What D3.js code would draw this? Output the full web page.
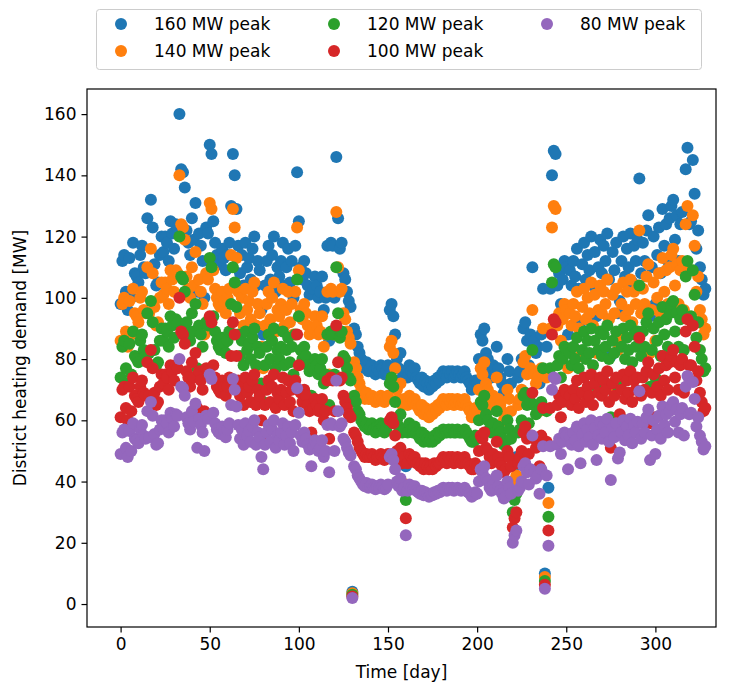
<!DOCTYPE html>
<html>
<head>
<meta charset="utf-8">
<script src="https://cdn.jsdelivr.net/npm/d3@7"></script>
<style>
  body { margin: 0; background: #fff; }
  svg text { font-family: "DejaVu Sans", sans-serif; fill: #000; }
</style>
</head>
<body>
<svg id="chart" width="734" height="688"></svg>
<script>
// Daily district heating demand [MW] for five network sizes (peak load)
const peakLabels = ["160 MW peak", "140 MW peak", "120 MW peak", "100 MW peak", "80 MW peak"];
const peakColors = ["#1f77b4", "#ff7f0e", "#2ca02c", "#d62728", "#9467bd"];

const demand160 = [
  98,112,114,102,96,113,100,118,108,107,
  105,114,117,110,108,126,109,132,123,111,
  104,105,114,120,115,120,118,112,125,121,
  116,124,123,160,142,141,136,122,118,114,
  126,119,131,102,121,117,112,100,123,121,
  150,147,125,118,114,112,111,116,113,109,
  114,118,130,147,140,129,117,108,114,104,
  118,110,113,106,116,120,104,112,109,96,
  88,104,112,117,106,114,120,102,110,107,
  112,118,104,110,116,105,112,100,117,141,
  125,110,106,112,108,104,101,90,103,107,
  104,100,102,107,96,100,117,86,118,117,
  100,146,126,116,118,108,106,102,99,97,
  4,90,88,84,82,80,78,77,79,76,
  77,78,76,75,77,76,78,77,75,76,
  78,96,98,94,88,80,77,82,74,76,
  45,74,78,76,75,77,74,73,72,74,
  71,73,72,70,72,71,73,72,74,73,
  75,76,75,74,76,75,76,74,75,76,
  75,74,75,76,74,73,72,70,71,73,
  72,80,88,86,90,82,80,76,74,78,
  75,84,77,74,72,69,70,80,76,72,
  40,45,48,74,76,80,90,92,86,78,
  88,110,86,82,84,72,88,103,10,84,
  38,103,140,148,147,104,108,98,106,112,
  110,88,109,104,112,107,116,103,92,111,
  118,106,114,109,120,104,115,94,110,119,
  108,117,112,121,106,81,115,109,118,95,
  99,112,120,107,116,110,121,105,117,112,
  119,139,108,118,112,122,127,94,110,120,
  98,114,123,108,129,117,124,112,126,130,
  132,119,127,112,124,128,110,142,149,124,
  125,145,134,116,122,110,106,101,103
];

const demand140 = [
  86,98,100,89,84,99,88,103,95,94,
  92,100,102,96,95,110,95,116,108,97,
  91,92,100,105,101,105,103,98,109,106,
  102,109,108,140,124,123,119,107,103,100,
  110,104,115,89,106,102,98,88,108,106,
  131,129,109,103,100,98,97,102,99,95,
  100,103,114,129,123,113,102,95,100,91,
  103,96,99,93,102,105,91,98,95,84,
  77,91,98,102,93,100,105,89,96,94,
  98,103,91,96,102,92,98,88,102,123,
  109,96,93,98,95,91,88,79,90,94,
  91,88,89,94,84,88,102,75,103,102,
  88,128,110,102,103,95,93,89,87,85,
  3.5,79,77,74,72,70,68,67,69,67,
  67,68,67,66,67,67,68,67,66,67,
  68,84,86,82,77,70,67,72,65,67,
  39,65,68,67,66,67,65,64,63,65,
  62,64,63,61,63,62,64,63,65,64,
  66,67,66,65,67,66,67,65,66,67,
  66,65,66,67,65,64,63,61,62,64,
  63,70,77,75,79,72,70,67,65,68,
  66,74,67,65,63,60,61,70,67,63,
  35,39,42,65,67,70,79,81,75,68,
  77,96,75,72,74,63,77,90,8.8,74,
  33,90,123,130,129,91,95,86,93,98,
  96,77,95,91,98,94,102,90,81,97,
  103,93,100,95,105,91,101,82,96,104,
  95,102,98,106,93,71,101,95,103,83,
  87,98,105,94,102,96,106,92,102,98,
  104,122,95,103,98,107,111,82,96,105,
  86,100,108,95,113,102,109,98,110,114,
  116,104,111,98,109,112,96,124,130,109,
  109,127,117,102,107,96,93,88,90
];

const demand120 = [
  74,84,86,77,72,85,75,89,81,80,
  79,86,88,83,81,95,82,99,92,83,
  78,79,86,90,86,90,89,84,94,91,
  87,93,92,120,107,106,102,92,89,86,
  95,89,98,77,91,88,84,75,92,91,
  113,110,94,89,86,84,83,87,85,82,
  86,89,98,110,105,97,88,81,86,78,
  89,83,85,80,87,90,78,84,82,72,
  66,78,84,88,80,86,90,77,83,80,
  84,89,78,83,87,79,84,75,88,106,
  94,83,80,84,81,78,76,68,77,80,
  78,75,77,80,72,75,88,65,89,88,
  75,110,95,87,89,81,80,77,74,73,
  3,68,66,63,62,60,59,58,59,57,
  58,59,57,56,58,57,59,58,56,57,
  59,72,74,71,66,60,58,62,56,57,
  34,56,59,57,56,58,56,55,54,56,
  53,55,54,53,54,53,55,54,56,55,
  56,57,56,56,57,56,57,56,56,57,
  56,56,56,57,56,55,54,53,53,55,
  54,60,66,65,68,62,60,57,56,59,
  56,63,58,56,54,52,53,60,57,54,
  30,34,36,56,57,60,68,69,65,59,
  66,83,65,62,63,54,66,77,7.5,63,
  28.5,77,105,111,110,78,81,74,80,84,
  83,66,82,78,84,80,87,77,69,83,
  89,80,86,82,90,78,86,71,83,89,
  81,88,84,91,80,61,86,82,89,71,
  74,84,90,80,87,83,91,79,88,84,
  89,104,81,89,84,92,95,71,83,90,
  74,86,92,81,97,88,93,84,95,98,
  99,89,95,84,93,96,83,107,112,93,
  94,109,101,87,92,83,80,76,77
];

const demand100 = [
  61,70,71,64,60,71,63,74,68,67,
  66,71,73,69,68,79,68,83,77,69,
  65,66,71,75,72,75,74,70,78,76,
  73,78,77,100,89,88,85,76,74,71,
  79,74,82,64,76,73,70,63,77,76,
  94,92,78,74,71,70,69,73,71,68,
  71,74,81,92,88,81,73,68,71,65,
  74,69,71,66,73,75,65,70,68,60,
  55,65,70,73,66,71,75,64,69,67,
  70,74,65,69,73,66,70,63,73,88,
  78,69,66,70,68,65,63,56,64,67,
  65,63,64,67,60,63,73,54,74,73,
  63,91,79,73,74,68,66,64,62,61,
  2.5,56,55,53,51,50,49,48,49,48,
  48,49,48,47,48,48,49,48,47,48,
  49,60,61,59,55,50,48,51,46,48,
  28,46,49,48,47,48,46,46,45,46,
  44,46,45,44,45,44,46,45,46,46,
  47,48,47,46,48,47,48,46,47,48,
  47,46,47,48,46,46,45,44,44,46,
  45,50,55,54,56,51,50,48,46,49,
  47,53,48,46,45,43,44,50,48,45,
  25,28,30,46,48,50,56,58,54,49,
  55,69,54,51,53,45,55,64,6.3,53,
  24,64,88,93,92,65,68,61,66,70,
  69,55,68,65,70,67,73,64,58,69,
  74,66,71,68,75,65,72,59,69,74,
  68,73,70,76,66,51,72,68,74,59,
  62,70,75,67,73,69,76,66,73,70,
  74,87,68,74,70,76,79,59,69,75,
  61,71,77,68,81,73,78,70,79,81,
  83,74,79,70,78,80,69,89,93,78,
  78,91,84,73,76,69,66,63,64
];

const demand80 = [
  49,56,57,51,48,56.5,50,59,54,53.5,
  52.5,57,58.5,55,54,63,54.5,66,61.5,55.5,
  52,52.5,57,60,57.5,60,59,56,62.5,60.5,
  58,62,61.5,80,71,70.5,68,61,59,57,
  63,59.5,65.5,51,60.5,58.5,56,50,61.5,60.5,
  75,73.5,62.5,59,57,56,55.5,58,56.5,54.5,
  57,59,65,73.5,70,64.5,58.5,54,57,52,
  59,55,56.5,53,58,60,52,56,54.5,48,
  44,52,56,58.5,53,57,60,51,55,53.5,
  56,59,52,55,58,52.5,56,50,58.5,70.5,
  62.5,55,53,56,54,52,50.5,45,51.5,53.5,
  52,50,51,53.5,48,50,58.5,43,59,58.5,
  50,73,63,58,59,54,53,51,49.5,48.5,
  2,45,44,42,41,40,39,38.5,39.5,38,
  38.5,39,38,37.5,38.5,38,39,38.5,37.5,38,
  39,48,49,47,44,40,38.5,41,37,38,
  22.5,37,39,38,37.5,38.5,37,36.5,36,37,
  35.5,36.5,36,35,36,35.5,36.5,36,37,36.5,
  37.5,38,37.5,37,38,37.5,38,37,37.5,38,
  37.5,37,37.5,38,37,36.5,36,35,35.5,36.5,
  36,40,44,43,45,41,40,38,37,39,
  37.5,42,38.5,37,36,34.5,35,40,38,36,
  20,22.5,24,37,38,40,45,46,43,39,
  44,55,43,41,42,36,44,51.5,5,42,
  19,51.5,70,74,73.5,52,54,49,53,56,
  55,44,54.5,52,56,53.5,58,51.5,46,55.5,
  59,53,57,54.5,60,52,57.5,47,55,59.5,
  54,58.5,56,60.5,53,40.5,57.5,54.5,59,47.5,
  49.5,56,60,53.5,58,55,60.5,52.5,58.5,56,
  59.5,69.5,54,59,56,61,63.5,47,55,60,
  49,57,61.5,54,64.5,58.5,62,56,63,65,
  66,59.5,63.5,56,62,64,55,71,74.5,62,
  62.5,72.5,67,58,61,55,53,50.5,51.5
];

const xTicks = [0, 50, 100, 150, 200, 250, 300];
const yTicks = [0, 20, 40, 60, 80, 100, 120, 140, 160];
const xLabel = "Time [day]";
const yLabel = "District heating demand [MW]";

const seriesValues = [demand160, demand140, demand120, demand100, demand80];
const days = d3.range(demand160.length);   // one value per day, starting at day 0

// ---- layout ----
const plot = { left: 87, top: 89, right: 716, bottom: 627 };
const fontSize = 17;
const dotR = 6;

const svg = d3.select("#chart");

const x = d3.scaleLinear().domain([-18.85, 334]).range([plot.left, plot.right]);
const y = d3.scaleLinear().domain([-7.5, 168.2]).range([plot.bottom, plot.top]);

// points, largest network first so the smaller ones sit on top
const layers = svg.append("g");
seriesValues.forEach((vals, i) => {
  layers.append("g")
    .attr("fill", peakColors[i])
    .selectAll("circle")
    .data(days)
    .join("circle")
    .attr("cx", d => x(d))
    .attr("cy", d => y(vals[d]))
    .attr("r", dotR);
});

// axes
const xAxis = svg.append("g")
  .attr("transform", `translate(0,${plot.bottom})`)
  .call(d3.axisBottom(x).tickValues(xTicks).tickSize(5.5).tickPadding(5).tickFormat(d3.format("d")));
const yAxis = svg.append("g")
  .attr("transform", `translate(${plot.left},0)`)
  .call(d3.axisLeft(y).tickValues(yTicks).tickSize(5.5).tickPadding(5).tickFormat(d3.format("d")));
[xAxis, yAxis].forEach(g => {
  g.select(".domain").remove();
  g.selectAll(".tick line").attr("stroke", "#000").attr("stroke-width", 1.2);
  g.selectAll(".tick text").attr("font-size", fontSize).attr("fill", "#000")
    .style("font-family", '"DejaVu Sans", sans-serif');
});

// frame
svg.append("rect")
  .attr("x", plot.left).attr("y", plot.top)
  .attr("width", plot.right - plot.left).attr("height", plot.bottom - plot.top)
  .attr("fill", "none").attr("stroke", "#000").attr("stroke-width", 1.2);

// axis titles
svg.append("text")
  .attr("x", (plot.left + plot.right) / 2).attr("y", 678)
  .attr("text-anchor", "middle").attr("font-size", fontSize)
  .text(xLabel);
svg.append("text")
  .attr("transform", `translate(26,${(plot.top + plot.bottom) / 2}) rotate(-90)`)
  .attr("text-anchor", "middle").attr("font-size", fontSize)
  .text(yLabel);

// legend (3 columns, filled column by column)
const legend = svg.append("g");
legend.append("rect")
  .attr("x", 96.5).attr("y", 9.5).attr("width", 605).attr("height", 60)
  .attr("rx", 3).attr("fill", "#fff").attr("stroke", "#cccccc").attr("stroke-width", 1);
const colX = [121, 334, 547];
const rowY = [24, 51];
peakLabels.forEach((label, i) => {
  const col = Math.floor(i / 2), row = i % 2;
  const item = legend.append("g").attr("transform", `translate(${colX[col]},${rowY[row]})`);
  item.append("circle").attr("r", dotR).attr("fill", peakColors[i]);
  item.append("text").attr("x", 33).attr("dy", "0.35em")
    .attr("font-size", fontSize).text(label);
});
</script>
</body>
</html>
